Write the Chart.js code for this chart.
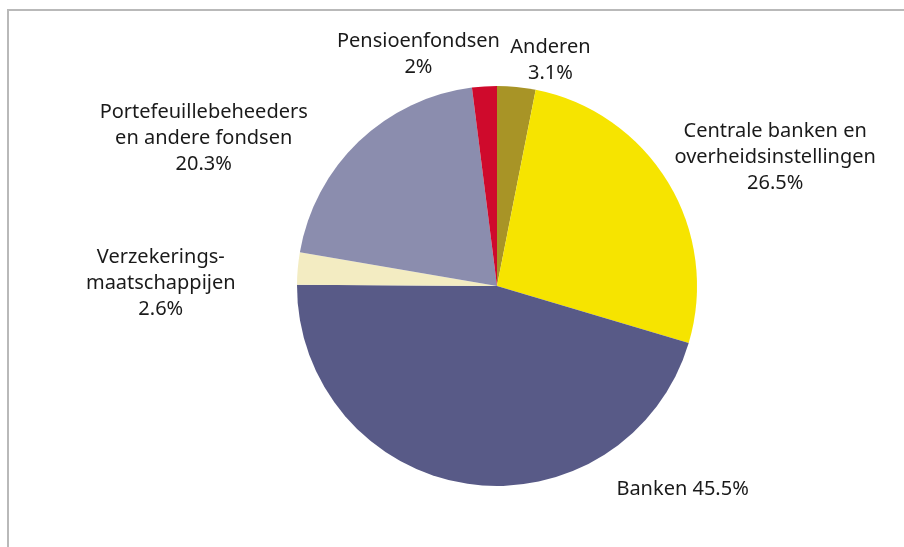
<!DOCTYPE html>
<html>
<head>
<meta charset="utf-8">
<title>Houders naar sector</title>
<script src="https://cdn.jsdelivr.net/npm/chart.js@4.4.1/dist/chart.umd.min.js"></script>
<style>
  html, body { margin: 0; padding: 0; background: #ffffff; }
  #wrap { position: relative; width: 904px; height: 547px; }
</style>
</head>
<body>
<div id="wrap"><canvas id="SectorStats" width="904" height="547"></canvas></div>
<script>
//
//
// Data
var sector_labels = [
  'Anderen',
  'Centrale banken en overheidsinstellingen',
  'Banken',
  'Verzekeringsmaatschappijen',
  'Portefeuillebeheeders en andere fondsen',
  'Pensioenfondsen'
];
var sector_values = [3.1, 26.5, 45.5, 2.6, 20.3, 2];
var sector_text = [
  ['Anderen', '3.1%'],
  ['Centrale banken en', 'overheidsinstellingen', '26.5%'],
  ['Banken 45.5%'],
  ['Verzekerings-', 'maatschappijen', '2.6%'],
  ['Portefeuillebeheeders', 'en andere fondsen', '20.3%'],
  ['Pensioenfondsen', '2%']
];
var sector_colors = ['#a89426', '#f6e400', '#585a87', '#f3ecc2', '#8b8dae', '#cf0a2c'];

//
//
// Label nudges away from the outer edge of each slice
var label_nudge = [[34, -27], [107, -25], [215, 5], [-137, 15], [-155, -3], [-66, -32]];
var label_font = '20px "Noto Sans"';
var label_line = 26;

//
//
// Frame lines (left and top only)
var framePlugin = {
  id: 'frameLines',
  beforeDraw: function(chart){
    var ctx = chart.ctx;
    ctx.save();
    ctx.strokeStyle = '#b9b9b9';
    ctx.lineWidth = 2;
    ctx.beginPath();
    ctx.moveTo(8, chart.height);
    ctx.lineTo(8, 10);
    ctx.lineTo(chart.width, 10);
    ctx.stroke();
    ctx.restore();
  }
};

//
//
// Slice labels outside the pie
var labelPlugin = {
  id: 'sliceLabels',
  afterDatasetsDraw: function(chart){
    var ctx = chart.ctx;
    var meta = chart.getDatasetMeta(0);
    ctx.save();
    ctx.font = label_font;
    ctx.fillStyle = '#1a1a1a';
    ctx.textAlign = 'center';
    ctx.textBaseline = 'middle';
    meta.data.forEach(function(arc, i){
      var mid = (arc.startAngle + arc.endAngle) / 2;
      var x = arc.x + Math.cos(mid) * arc.outerRadius + label_nudge[i][0];
      var y = arc.y + Math.sin(mid) * arc.outerRadius + label_nudge[i][1];
      var lines = sector_text[i];
      var top = y - (lines.length - 1) * label_line / 2;
      for (var l = 0; l < lines.length; l++){
        ctx.fillText(lines[l], x, top + l * label_line);
      }
    });
    ctx.restore();
  }
};

//
//
// Draw Chart
var sector_stats = document.getElementById('SectorStats').getContext('2d');
new Chart(sector_stats, {
  type: 'pie',
  data: {
    labels: sector_labels,
    datasets: [{
      data: sector_values,
      backgroundColor: sector_colors,
      borderWidth: 0
    }]
  },
  options: {
    responsive: false,
    animation: false,
    layout: {
      padding: { left: 297, right: 207, top: 86, bottom: 61 }
    },
    plugins: {
      legend: { display: false },
      tooltip: { enabled: false }
    }
  },
  plugins: [framePlugin, labelPlugin]
});
</script>
</body>
</html>
